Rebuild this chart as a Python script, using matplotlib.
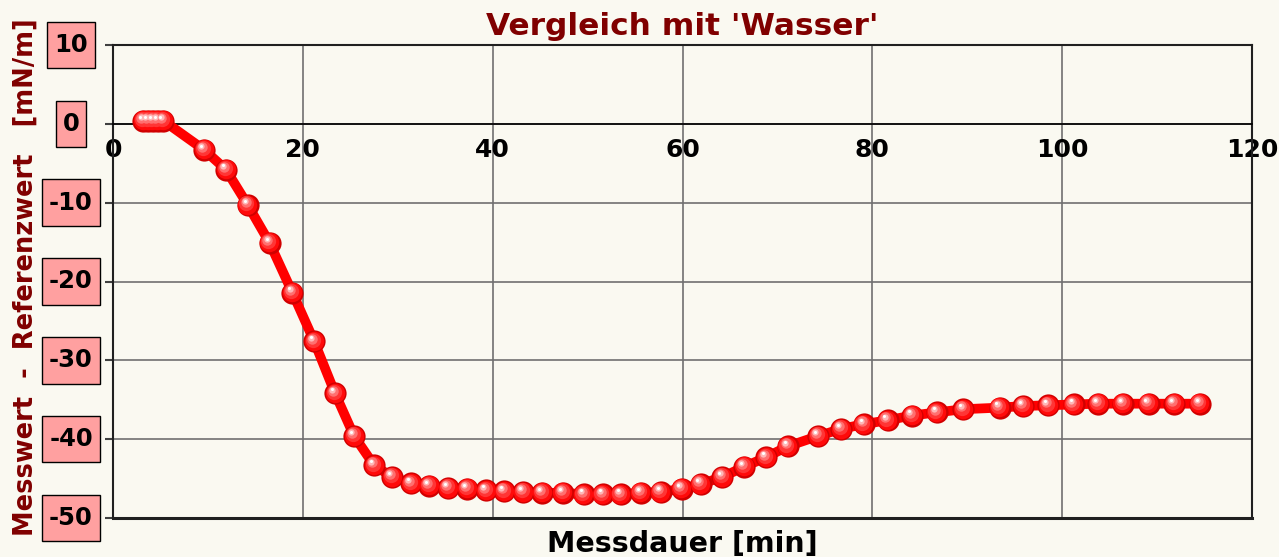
import matplotlib
matplotlib.use("Agg")
from matplotlib import pyplot as plt
from matplotlib import transforms
from matplotlib.path import Path

zeit_min = [3.2, 3.7, 4.2, 4.7, 5.3, 9.6, 11.9, 14.2, 16.5, 18.9, 21.2, 23.4, 25.4, 27.5,
            29.4, 31.4, 33.3, 35.3, 37.3, 39.3, 41.2, 43.2, 45.2, 47.4, 49.6, 51.6, 53.5,
            55.6, 57.7, 59.9, 61.9, 64.2, 66.5, 68.8, 71.1, 74.3, 76.7, 79.1, 81.6, 84.2,
            86.8, 89.6, 93.4, 95.9, 98.5, 101.2, 103.8, 106.4, 109.1, 111.8, 114.5]
differenz = [0.4, 0.4, 0.4, 0.4, 0.4, -3.3, -5.8, -10.3, -15.1, -21.4, -27.6, -34.2, -39.6, -43.3,
             -44.8, -45.6, -45.9, -46.2, -46.3, -46.5, -46.6, -46.7, -46.8, -46.8, -47.0, -47.0, -47.0,
             -46.8, -46.7, -46.3, -45.7, -44.8, -43.5, -42.3, -40.9, -39.6, -38.7, -38.1, -37.6, -37.0,
             -36.6, -36.2, -36.0, -35.8, -35.7, -35.6, -35.5, -35.5, -35.5, -35.5, -35.5]
xticks = [0, 20, 40, 60, 80, 100, 120]
yticks = [10, 0, -10, -20, -30, -40, -50]

bg = "#FAF9F1"
dunkelrot = "#800000"


def kasten(x0, y0, width, height, mutation_size):
    # Rechteck mit unterschiedlichem Rand waagrecht / senkrecht
    px = 0.28 * mutation_size
    py = 0.46 * mutation_size
    x0, y0 = x0 - px, y0 - py
    x1, y1 = x0 + width + 2 * px, y0 + height + 2 * py
    return Path([(x0, y0), (x1, y0), (x1, y1), (x0, y1), (x0, y0)], closed=True)


fig = plt.figure(figsize=(12.79, 5.57), dpi=100, facecolor=bg)
ax = fig.add_axes([113 / 1279, 1 - 518 / 557, (1252 - 113) / 1279, (518 - 45) / 557])
ax.set_facecolor(bg)
ax.set_xlim(0, 120)
ax.set_ylim(-50, 10)

ax.set_xticks(xticks)
ax.set_yticks(yticks)
ax.grid(True, color="#707070", lw=1.2)
ax.set_axisbelow(True)

for s in ["left", "top", "right"]:
    ax.spines[s].set_color("#202020")
    ax.spines[s].set_linewidth(1.5)
ax.spines["bottom"].set_position(("data", 0))
ax.spines["bottom"].set_color("black")
ax.spines["bottom"].set_linewidth(1.2)
ax.axhline(-50, color="#202020", lw=2.2, clip_on=False, zorder=3)

ax.tick_params(axis="x", length=0, pad=10, labelsize=18)
ax.tick_params(axis="y", length=6, width=1.5, color="#404040", labelleft=False)
for lbl in ax.get_xticklabels():
    lbl.set_fontweight("bold")

# Y-Beschriftungen in rosa Kaestchen
tr = transforms.blended_transform_factory(fig.transFigure, ax.transData)
for v in yticks:
    ax.text(71 / 1279, v, "%d" % v, transform=tr, ha="center", va="center",
            fontsize=17.5, fontweight="bold", color="black", clip_on=False,
            bbox=dict(boxstyle=kasten, fc="#FFA0A0", ec="black", lw=1))

# Kurve
ax.plot(zeit_min, differenz, color="#FF0000", lw=7, zorder=4, solid_capstyle="round")

# Kugel-Marker (Schichten mit Glanzpunkt)
schichten = [(16, "#D00000", 0, 0), (14, "#FF0A0A", -0.3, 0.3), (11, "#FF3535", -1.0, 1.2),
             (7.5, "#FF7070", -1.6, 2.0), (4.5, "#FFB8B8", -2.0, 2.6), (2.2, "#FFFFFF", -2.2, 3.0)]
for i, (ms, col, dx, dy) in enumerate(schichten):
    off = transforms.offset_copy(ax.transData, fig=fig, x=dx, y=dy, units="points")
    ax.plot(zeit_min, differenz, ls="none", marker="o", ms=ms, mfc=col, mec="none",
            transform=off, zorder=5 + i, clip_on=False)

fig.text(682 / 1279, 1 - 35 / 557, "Vergleich mit 'Wasser'", ha="center", va="baseline",
         fontsize=22.5, fontweight="bold", color=dunkelrot)
fig.text(682 / 1279, 1 - 552 / 557, "Messdauer [min]", ha="center", va="baseline",
         fontsize=20.5, fontweight="bold", color="black")
fig.text(26 / 1279, 1 - 277 / 557, "Messwert  -  Referenzwert   [mN/m]", ha="center", va="center",
         rotation=90, fontsize=18.5, fontweight="bold", color=dunkelrot)

plt.savefig("out.png", dpi=100, facecolor=bg)
plt.close()
